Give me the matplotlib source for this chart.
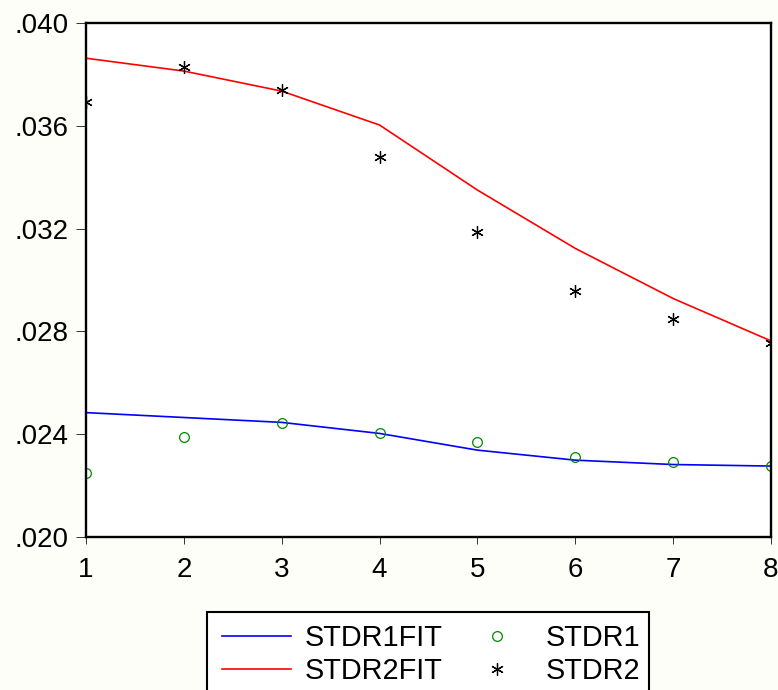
import matplotlib
matplotlib.use("Agg")
import matplotlib.pyplot as plt
from matplotlib.ticker import FuncFormatter, FixedLocator
from matplotlib.patches import Rectangle

periods = [1, 2, 3, 4, 5, 6, 7, 8]
stdr1fit = [0.02484, 0.02465, 0.02446, 0.02403, 0.02338, 0.02299, 0.02282, 0.02276]
stdr2fit = [0.03863, 0.03813, 0.03735, 0.03603, 0.03350, 0.03123, 0.02928, 0.02763]
stdr1 = [0.02248, 0.02391, 0.02443, 0.02403, 0.02368, 0.02313, 0.02291, 0.02276]
stdr2 = [0.03694, 0.03827, 0.03739, 0.03480, 0.03185, 0.02958, 0.02848, 0.02756]
yticks = [0.020, 0.024, 0.028, 0.032, 0.036, 0.040]

plt.rcParams['font.family'] = ['Liberation Sans', 'DejaVu Sans']

bg = '#fefef8'
W, H = 778, 690
fig = plt.figure(figsize=(W/100, H/100), dpi=100, facecolor=bg)
ax = fig.add_axes([86/W, 1 - 537/H, (771 - 86)/W, (537 - 23)/H])
ax.set_facecolor('white')

l1, = ax.plot(periods, stdr1fit, color='#0000ff', lw=1.2, label='STDR1FIT')
l2, = ax.plot(periods, stdr2fit, color='#ff0000', lw=1.2, label='STDR2FIT')
p1, = ax.plot(periods, stdr1, ls='none', marker='o', mfc='none', mec='#008800',
              ms=7, mew=0.9, label='STDR1')
p2, = ax.plot(periods, stdr2, ls='none', marker=(6, 2, 0), color='black',
              ms=9, mew=0.9, label='STDR2')

ax.set_xlim(1, 8)
ax.set_ylim(0.020, 0.040)
ax.xaxis.set_major_locator(FixedLocator(periods))
ax.yaxis.set_major_locator(FixedLocator(yticks))
ax.yaxis.set_major_formatter(FuncFormatter(lambda v, p: ('%.3f' % v).lstrip('0')))

for s in ax.spines.values():
    s.set_linewidth(1.7)
    s.set_color('black')

ax.tick_params(axis='y', direction='out', length=7.2, width=0.7, color='#333333',
               pad=5.5, labelsize=20)
ax.tick_params(axis='x', direction='out', length=5, width=0.7, color='#333333',
               pad=9.5, labelsize=20)

# legend frame (extends past the bottom edge of the figure)
fig.patches.append(Rectangle((207.3/W, -0.05), (649.3 - 207.3)/W, (1 - 612.3/H) + 0.05,
                             transform=fig.transFigure, facecolor='white',
                             edgecolor='black', linewidth=1.5, zorder=0))

leg = fig.legend(handles=[l1, l2, p1, p2], ncol=2, loc='upper left',
                 bbox_to_anchor=(221.7/W, 1 - 624/H), fontsize=20.8,
                 frameon=False,
                 handlelength=2.4, handletextpad=0.47, columnspacing=0.7,
                 labelspacing=0.17, borderpad=0, borderaxespad=0)

fig.savefig('out.png', dpi=100, facecolor=bg)
